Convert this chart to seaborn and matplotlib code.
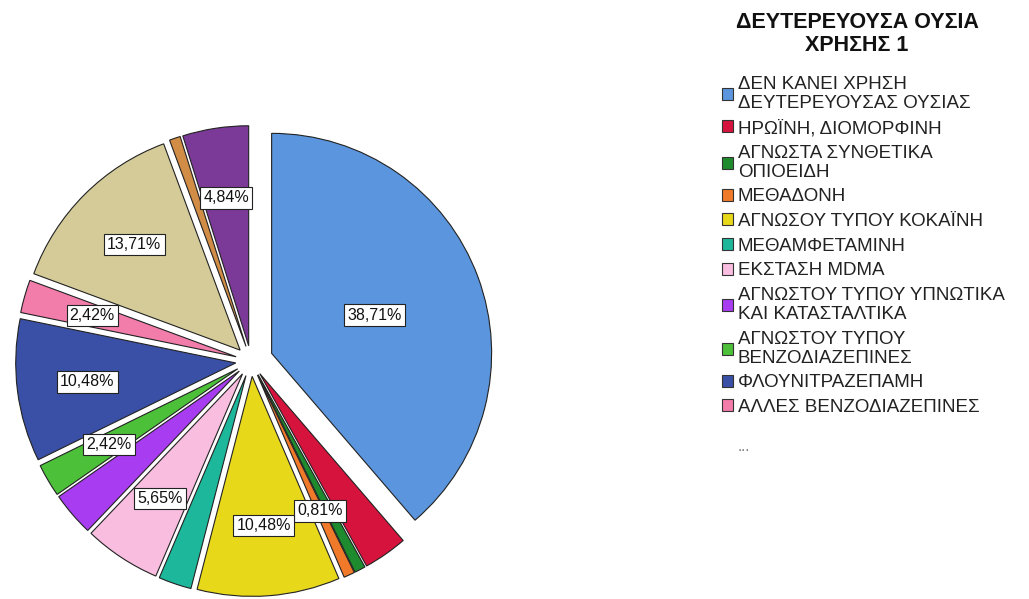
import numpy as np
import matplotlib.pyplot as plt
import matplotlib.patches as mpatches
import seaborn as sns

sns.set_theme(style='white')
plt.rcParams['font.family'] = ['Liberation Sans', 'DejaVu Sans']

categories = ['ΔΕΝ ΚΑΝΕΙ ΧΡΗΣΗ\nΔΕΥΤΕΡΕΥΟΥΣΑΣ ΟΥΣΙΑΣ', 'ΗΡΩΪΝΗ, ΔΙΟΜΟΡΦΙΝΗ',
              'ΑΓΝΩΣΤΑ ΣΥΝΘΕΤΙΚΑ\nΟΠΙΟΕΙΔΗ', 'ΜΕΘΑΔΟΝΗ', 'ΑΓΝΩΣΟΥ ΤΥΠΟΥ ΚΟΚΑΪΝΗ',
              'ΜΕΘΑΜΦΕΤΑΜΙΝΗ', 'ΕΚΣΤΑΣΗ MDMA', 'ΑΓΝΩΣΤΟΥ ΤΥΠΟΥ ΥΠΝΩΤΙΚΑ\nΚΑΙ ΚΑΤΑΣΤΑΛΤΙΚΑ',
              'ΑΓΝΩΣΤΟΥ ΤΥΠΟΥ\nΒΕΝΖΟΔΙΑΖΕΠΙΝΕΣ', 'ΦΛΟΥΝΙΤΡΑΖΕΠΑΜΗ', 'ΑΛΛΕΣ ΒΕΝΖΟΔΙΑΖΕΠΙΝΕΣ',
              'ΑΛΛΟ 1', 'ΑΛΛΟ 2', 'ΑΛΛΟ 3']
percent = [38.71, 3.23, 0.81, 0.81, 10.48, 2.42, 5.65, 3.23, 2.42, 10.48, 2.42, 13.71, 0.81, 4.84]
show_label = [True, False, False, True, True, False, True, False, True, True, True, True, False, True]
colors = ['#5B95DD', '#D6133C', '#1E8B2E', '#F07A2A', '#E8D81A', '#1DB89B', '#F8BDDF',
          '#A83CF0', '#4DC03A', '#3A50A6', '#F27CAA', '#D4CB98', '#D18C45', '#7B3A98']
legend_count = 11

fig = plt.figure(figsize=(10.29, 5.99), dpi=100)
# pie axes: center ~ (251, 360) px, radius ~220 px
R = 220
cx_px, cy_px = 251, 599 - 361
half = 1.2 * R
ax = fig.add_axes([(cx_px - half) / 1029, (cy_px - half) / 599, 2 * half / 1029, 2 * half / 599])

explode = [0.1 if i == 0 else 0.07 for i in range(len(percent))]
wedges, texts, autotexts = ax.pie(percent, colors=colors, explode=explode, startangle=90,
                                  counterclock=False, autopct='%.2f', pctdistance=0.68,
                                  wedgeprops=dict(edgecolor='#222222', linewidth=0.8))
ax.set_xlim(-1.2, 1.2)
ax.set_ylim(-1.2, 1.2)

for i, (w, t) in enumerate(zip(wedges, autotexts)):
    if not show_label[i]:
        t.set_visible(False)
        continue
    t.set_text(f'{percent[i]:.2f}%'.replace('.', ','))
    t.set_fontsize(11.5)
    t.set_color('#111111')
    t.set_bbox(dict(boxstyle='square,pad=0.2', fc='white', ec='#222222', lw=0.8))
    if i == 0:
        cx, cy = w.center
        x, y = t.get_position()
        t.set_position((cx + (x - cx) * 0.5 / 0.68, cy + (y - cy) * 0.5 / 0.68))

# legend title
fig.text(857 / 1029, 1 - 34 / 599, 'ΔΕΥΤΕΡΕΥΟΥΣΑ ΟΥΣΙΑ\nΧΡΗΣΗΣ 1', ha='center', va='center',
         multialignment='center', fontsize=15.5, fontweight='bold', color='#111111',
         linespacing=1.1)

handles = [mpatches.Patch(facecolor=colors[i], edgecolor='#333333', linewidth=0.8)
           for i in range(legend_count)]
leg = fig.legend(handles, categories[:legend_count], loc='upper left',
                 bbox_to_anchor=(705 / 1029, 1 - 59 / 599), frameon=False,
                 fontsize=13.5, handlelength=0.6, handleheight=0.6, handletextpad=0.25,
                 labelspacing=0.41)
for txt in leg.get_texts():
    txt.set_color('#222222')
    txt.set_linespacing(1.15)
fig.text(738 / 1029, 1 - 447 / 599, '...', fontsize=11, color='#777777', va='center')

fig.savefig('out.png', dpi=100)
